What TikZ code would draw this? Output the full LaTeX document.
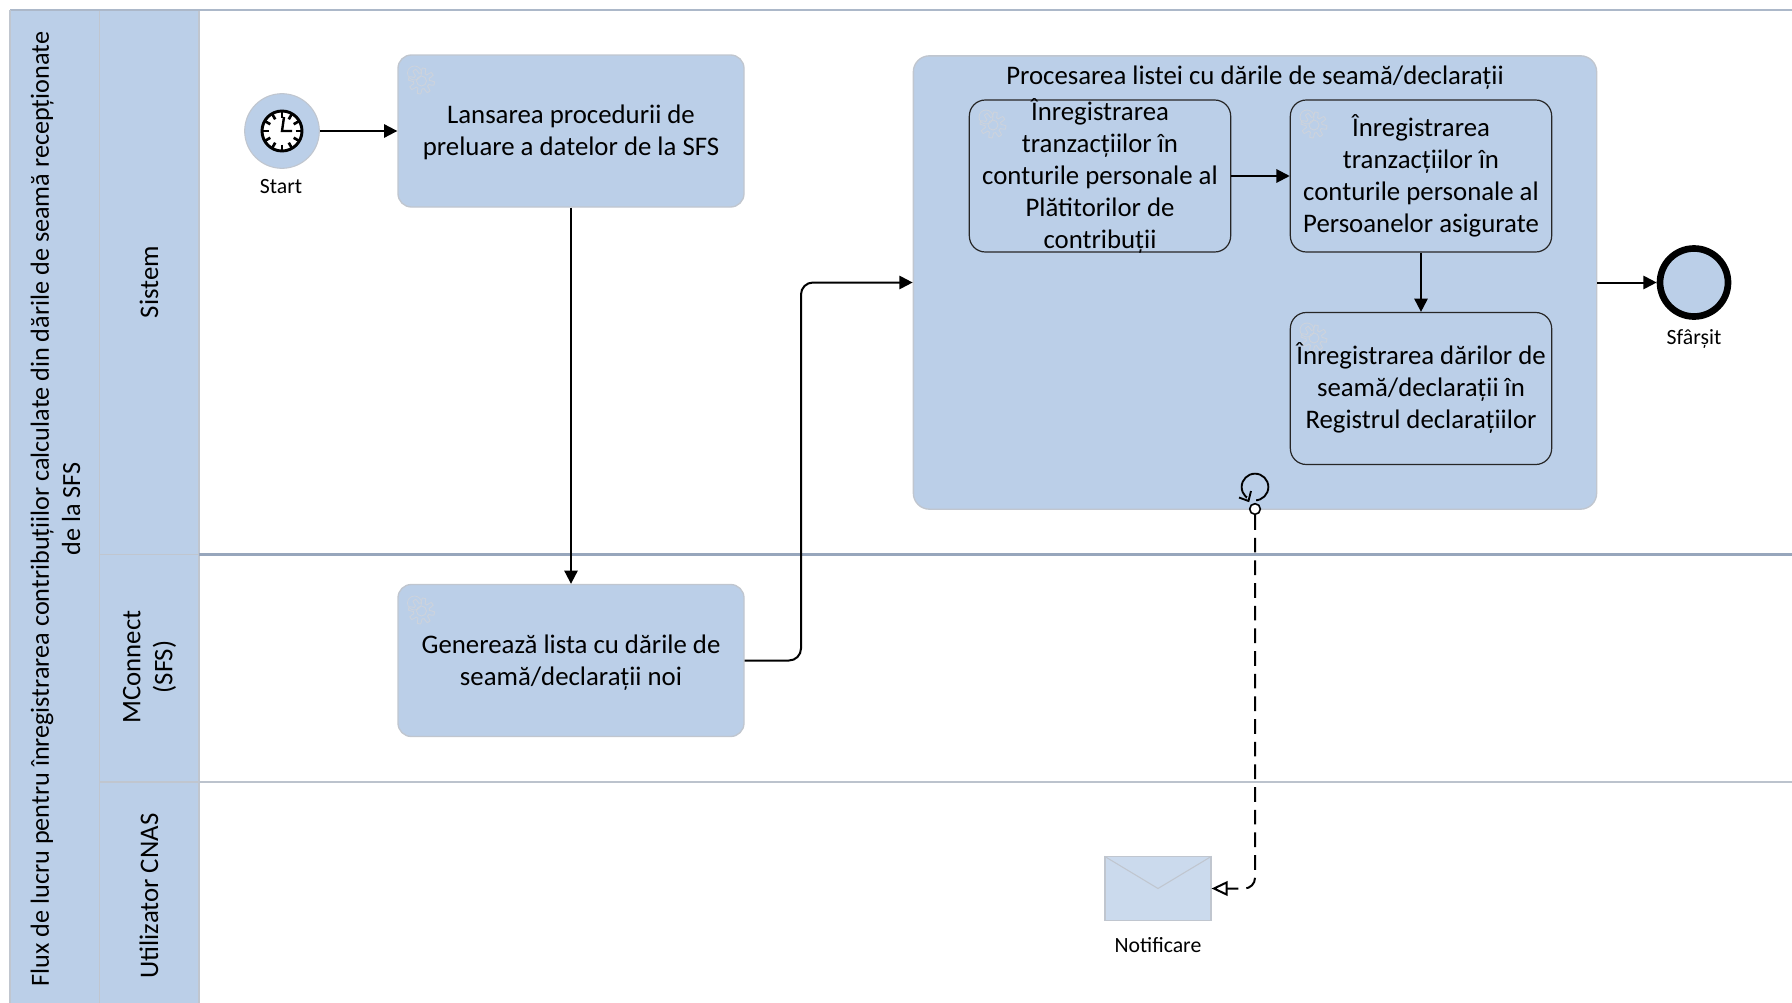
\documentclass[tikz,border=0pt]{standalone}
\usepackage{fontspec}
\setmainfont{Carlito}
\usetikzlibrary{arrows.meta}
\definecolor{laneblue}{HTML}{BBCFE8}
\definecolor{envblue}{HTML}{CBDAED}
\definecolor{lanegray}{HTML}{97A6BC}
\definecolor{softgray}{HTML}{C0C6CF}
\definecolor{gearcol}{HTML}{CDD3DC}
\tikzset{
  x=0.75pt,y=-0.75pt,
  flow/.style={draw=black,line width=1.5pt,-{Triangle[length=10pt,width=10pt]}},
  dashflow/.style={draw=black,line width=1.5pt,dash pattern=on 11pt off 6pt,rounded corners=8pt,-{Triangle[open,fill=white,length=12pt,width=11pt]}},
  maintext/.style={font=\fontsize{20.1pt}{24pt}\selectfont,align=center,text=black,inner sep=0pt},
  smalltext/.style={font=\fontsize{16.3pt}{19pt}\selectfont,align=center,text=black,inner sep=0pt},
  lanecol/.style={rectangle,fill=laneblue,inner sep=0pt,minimum width=#1,anchor=north west},
  task/.style={rectangle,rounded corners=10pt,fill=laneblue,draw=softgray,line width=1pt,minimum width=259.5pt,minimum height=114pt,inner sep=0pt,maintext},
  subtask/.style={rectangle,rounded corners=12pt,draw=black!85,line width=0.9pt,minimum width=196pt,inner sep=0pt,maintext},
  pics/gearicon/.style={code={
    \draw[gearcol,line width=0.7pt] plot[sharp plot,samples=97,domain=0:360] (\x:{10.5+2.5*sign(sin(8*\x))}) -- cycle;
    \draw[gearcol,line width=0.7pt] (0,0) circle[radius=5];
    \draw[gearcol,line width=0.6pt] (-7,-8) circle[radius=7];
  }}
}
\begin{document}
\begin{tikzpicture}
\useasboundingbox (0,0) rectangle (1792,1003);
% pool and lanes
\node[lanecol=67pt,minimum height=744pt] (pool) at (11,11) {};
\node[lanecol=74pt,minimum height=744pt] (lanecol) at (100,11) {};
\draw[softgray,line width=0.8pt] (99.5,10) -- (99.5,1003);
\draw[softgray,line width=0.8pt] (199,10) -- (199,1003);
\draw[lanegray!80!white,line width=1.4pt] (10,10) -- (1792,10);
\draw[softgray,line width=1pt] (100,554.5) -- (199,554.5);
\draw[lanegray,line width=1.6pt] (199,554.5) -- (1792,554.5);
\draw[softgray,line width=1pt] (100,782) -- (199,782);
\draw[softgray!90!lanegray,line width=1.6pt] (199,782) -- (1792,782);
\draw[softgray,line width=2pt] (10,10) -- (10,1003);
% lane labels
\node[maintext,rotate=90,font=\fontsize{19.65pt}{23.4pt}\selectfont] (pooltitle) at (55.5,509) {Flux de lucru pentru înregistrarea contribuțiilor calculate din dările de seamă recepționate\\de la SFS};
\node[maintext,rotate=90] (lanea) at (149,282) {Sistem};
\node[maintext,rotate=90] (laneb) at (149.5,667) {MConnect\\(SFS)};
\node[maintext,rotate=90] (lanec) at (149,896) {Utilizator CNAS};
% start
\node[circle,fill=laneblue,draw=softgray,line width=0.8pt,minimum size=56pt,inner sep=0pt] (start) at (282,131) {};
\node[circle,fill=white,draw=black,line width=2.2pt,minimum size=30pt,inner sep=0pt] (clock) at (282,131) {};
\foreach \a in {0,30,...,330}{\draw[black,line width=2pt] (282,131)+(\a:13.5) -- +(\a:20);}
\draw[black,line width=1.8pt] (284,117) -- (282,131) -- (292,131);
\node[smalltext] (startlabel) at (281,187) {Start};
% tasks
\node[task] (taska) at (571,131) {};
\node[maintext] (taskatext) at (571,132) {Lansarea procedurii de\\preluare a datelor de la SFS};
\pic at (421.5,81) {gearicon};
\node[task] (taskb) at (571,660.5) {};
\node[maintext] (taskbtext) at (571,662.5) {Generează lista cu dările de\\seamă/declarații noi};
\pic at (421.5,611) {gearicon};
% sub-process
\node[rectangle,rounded corners=12pt,fill=laneblue,draw=softgray,line width=1pt,minimum width=512.5pt,minimum height=340pt,inner sep=0pt] (sub) at (1255,282.5) {};
\node[maintext] (subtitle) at (1255,78) {Procesarea listei cu dările de seamă/declarații};
\node[subtask,minimum height=114pt] (ina) at (1100,176) {};
\node[subtask,minimum height=114pt] (inb) at (1421,176) {};
\node[subtask,minimum height=114pt] (inc) at (1421,388.5) {};
\pic at (993,125) {gearicon};
\pic at (1314,125) {gearicon};
\pic at (1314,338) {gearicon};
\node[maintext] (inatext) at (1100,176) {Înregistrarea\\tranzacțiilor în\\conturile personale al\\Plătitorilor de\\contribuții};
\node[maintext] (inbtext) at (1421,176) {Înregistrarea\\tranzacțiilor în\\conturile personale al\\Persoanelor asigurate};
\node[maintext] (inctext) at (1421,387.5) {Înregistrarea dărilor de\\seamă/declarații în\\Registrul declarațiilor};
% loop marker
\node[circle,draw=black,line width=1.4pt,minimum size=20pt,inner sep=0pt] (loopmark) at (1255,487) {};
\fill[laneblue] (1247,497) rectangle (1256,503);
\draw[black,line width=1.4pt] (1239,497.5) -- (1248.5,501) -- (1251,491);
\node[circle,fill=white,draw=black,line width=1.2pt,minimum size=8pt,inner sep=0pt] (loopdot) at (1255,509) {};
% end
\node[circle,fill=laneblue,draw=black,line width=5pt,minimum size=51pt,inner sep=0pt] (endev) at (1694,282.5) {};
\node[smalltext] (endlabel) at (1694,339) {Sfârșit};
% envelope
\node[rectangle,fill=envblue,draw=softgray,line width=0.9pt,minimum width=79.5pt,minimum height=47.5pt,inner sep=0pt] (env) at (1158,888.5) {};
\draw[softgray,line width=0.8pt] (env.north west) -- (env.center) -- (env.north east);
\node[smalltext] (envlabel) at (1158,945) {Notificare};
% connectors
\coordinate (bendx) at (801,282.5);
\draw[flow] (start.east) -- (taska.west);
\draw[flow] (taska.south) -- (taskb.north);
\draw[flow,rounded corners=9pt] (taskb.east) -| (bendx) -- (sub.west);
\draw[flow] (ina.east) -- (inb.west);
\draw[flow] (inb.south) -- (inc.north);
\draw[flow] (sub.east) -- (endev.west);
\draw[dashflow] (loopdot.south) |- (env.east);
\end{tikzpicture}
\end{document}
